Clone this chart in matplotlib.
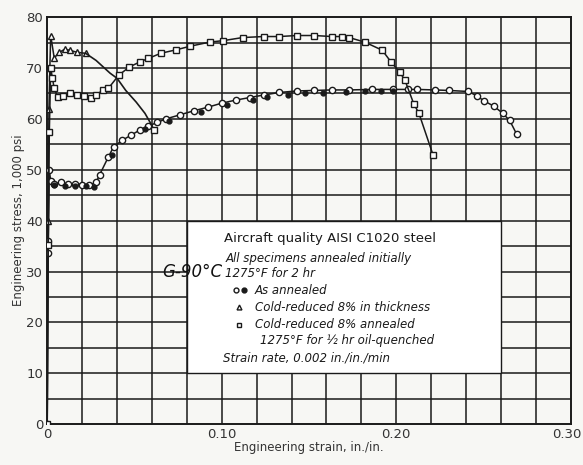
import matplotlib
matplotlib.use("Agg")
import matplotlib.pyplot as plt
from matplotlib.patches import Rectangle
from matplotlib.transforms import ScaledTranslation

# As annealed (open circles)
annealed_strain = [0, 0.0004, 0.0006, 0.0012, 0.002, 0.004, 0.008, 0.012, 0.016,
                   0.020, 0.024, 0.028, 0.030, 0.035, 0.038, 0.043, 0.048, 0.053,
                   0.058, 0.063, 0.068, 0.076, 0.084, 0.092, 0.100, 0.108, 0.116,
                   0.124, 0.133, 0.143, 0.153, 0.163, 0.173, 0.186, 0.198, 0.207,
                   0.212, 0.222, 0.230, 0.241, 0.246, 0.250, 0.256, 0.261, 0.265, 0.269]
annealed_stress = [0, 33.6, 36.0, 49.9, 47.8, 47.3, 47.5, 47.2, 47.3,
                   47.1, 47.0, 47.5, 49.0, 52.5, 54.5, 55.8, 56.8, 57.8,
                   58.6, 59.3, 60.0, 60.8, 61.6, 62.3, 63.1, 63.7, 64.2,
                   64.7, 65.2, 65.5, 65.6, 65.7, 65.7, 65.8, 65.8, 65.8,
                   65.8, 65.7, 65.6, 65.4, 64.6, 63.6, 62.5, 61.1, 59.7, 57.0]

# As annealed, second specimen (filled dots)
annealed2_strain = [0.004, 0.010, 0.016, 0.022, 0.027, 0.037, 0.056, 0.070, 0.088,
                    0.103, 0.118, 0.126, 0.138, 0.148, 0.158, 0.171, 0.182, 0.191, 0.198]
annealed2_stress = [47.0, 46.9, 46.8, 46.8, 46.6, 53.0, 58.0, 59.5, 61.3,
                    62.8, 63.8, 64.3, 64.8, 65.0, 65.1, 65.3, 65.4, 65.4, 65.5]

# Cold-reduced 8% in thickness (triangles, then plain curve)
cold_strain = [0, 0.0005, 0.001, 0.0015, 0.002, 0.004, 0.007, 0.010, 0.013, 0.017, 0.022]
cold_stress = [0, 40.0, 62.0, 70.0, 76.4, 72.0, 73.1, 73.7, 73.5, 73.1, 72.9]
cold_tail_strain = [0.022, 0.028, 0.036, 0.040, 0.045, 0.051, 0.056, 0.060, 0.061]
cold_tail_stress = [72.9, 71.5, 69.0, 68.0, 65.6, 63.3, 61.1, 58.7, 57.8]

# Cold-reduced 8%, annealed 1275F 1/2 hr, oil-quenched (squares)
quench_strain = [0, 0.0006, 0.0012, 0.002, 0.003, 0.004, 0.006, 0.009, 0.013, 0.017,
                 0.021, 0.025, 0.028, 0.032, 0.035, 0.041, 0.047, 0.053, 0.058, 0.065,
                 0.074, 0.082, 0.093, 0.101, 0.112, 0.124, 0.133, 0.143, 0.153, 0.163,
                 0.169, 0.173, 0.182, 0.192, 0.197, 0.202, 0.205, 0.210, 0.213, 0.221]
quench_stress = [0, 35.2, 57.4, 70.0, 68.0, 66.0, 64.3, 64.6, 65.0, 64.7,
                 64.5, 64.2, 64.8, 65.6, 66.0, 68.6, 70.2, 71.2, 71.9, 72.9,
                 73.6, 74.3, 75.1, 75.4, 76.0, 76.2, 76.2, 76.4, 76.4, 76.2,
                 76.2, 76.0, 75.1, 73.5, 71.2, 69.2, 67.6, 63.0, 61.1, 53.0]

x_ticks = [0, 0.10, 0.20, 0.30]
x_tick_labels = ["0", "0.10", "0.20", "0.30"]
y_ticks = [0, 10, 20, 30, 40, 50, 60, 70, 80]

paper = "#f7f7f4"
ink = "#1a1a1a"

fig = plt.figure(figsize=(5.83, 4.65), dpi=100)
fig.patch.set_facecolor(paper)
ax = fig.add_axes([0.081, 0.088, 0.898, 0.875])
ax.set_facecolor(paper)
ax.set_xlim(0, 0.30)
ax.set_ylim(0, 80)

# ── grid ────────────────────────────────────────────────────────────────
for i in range(1, 15):
    ax.axvline(i * 0.02, color=ink, lw=1.1, zorder=1)
for j in range(1, 16):
    ax.axhline(j * 5, color=ink, lw=1.1, zorder=1)

# legend panel hides the grid behind it
ax.add_patch(Rectangle((0.08, 10), 0.18, 30, facecolor="white",
                       edgecolor=ink, lw=1.0, zorder=2))

# ── curves ──────────────────────────────────────────────────────────────
mk = dict(color=ink, lw=1.1, mfc="white", mec=ink, mew=1.0, ms=4.5, zorder=4)
ax.plot(annealed_strain, annealed_stress, marker="o", **mk)
ax.plot(annealed2_strain, annealed2_stress, ls="none", marker="o", ms=3.5,
        color=ink, zorder=5)
ax.plot(cold_strain, cold_stress, marker="^", **mk)
ax.plot(cold_tail_strain, cold_tail_stress, color=ink, lw=1.2, zorder=4)
ax.plot(cold_tail_strain[-1:], cold_tail_stress[-1:], marker="s", **mk)
ax.plot(quench_strain, quench_stress, marker="s", **mk)

# ── legend text ─────────────────────────────────────────────────────────
fs = 8.5
ax.text(0.162, 36.5, "Aircraft quality AISI C1020 steel", ha="center",
        va="center", fontsize=9.5, color=ink, zorder=6)
it = dict(fontsize=fs, style="italic", color=ink, va="center", zorder=6)
ax.text(0.102, 32.6, "All specimens annealed initially", **it)
ax.text(0.102, 29.7, "1275°F for 2 hr", **it)
ax.plot([0.108], [26.3], marker="o", ms=3.5, mfc="white", mec=ink, ls="none", zorder=6)
ax.plot([0.113], [26.3], marker="o", ms=3.5, color=ink, ls="none", zorder=6)
ax.text(0.119, 26.3, "As annealed", **it)
ax.plot([0.110], [23.0], marker="^", ms=3.5, mfc="white", mec=ink, ls="none", zorder=6)
ax.text(0.119, 23.0, "Cold-reduced 8% in thickness", **it)
ax.plot([0.110], [19.5], marker="s", ms=3.5, mfc="white", mec=ink, ls="none", zorder=6)
ax.text(0.119, 19.5, "Cold-reduced 8% annealed", **it)
ax.text(0.122, 16.5, "1275°F for ½ hr oil-quenched", **it)
ax.text(0.101, 13.0, "Strain rate, 0.002 in./in./min", **it)

# handwritten note
ax.text(0.1005, 29.9, "G-90°C", ha="right", va="center", fontsize=12,
        style="italic", color="#111111", zorder=6)

# ── axes ────────────────────────────────────────────────────────────────
ax.set_xticks(x_ticks)
ax.set_xticklabels(x_tick_labels)
ax.set_yticks(y_ticks)
ax.tick_params(length=0, labelsize=9.5, colors="#333333", pad=3)
# last strain label sits against the right edge of the page
last = ax.get_xticklabels()[-1]
last.set_ha("right")
last.set_transform(last.get_transform() + ScaledTranslation(0.11, 0, fig.dpi_scale_trans))
for spine in ax.spines.values():
    spine.set_edgecolor(ink)
    spine.set_linewidth(1.4)
ax.set_xlabel("Engineering strain, in./in.", fontsize=8.5, color="#333333", labelpad=0)
ax.set_ylabel("Engineering stress, 1,000 psi", fontsize=8.5, color="#333333", labelpad=1)

fig.savefig("out.png", dpi=100, facecolor=paper)
